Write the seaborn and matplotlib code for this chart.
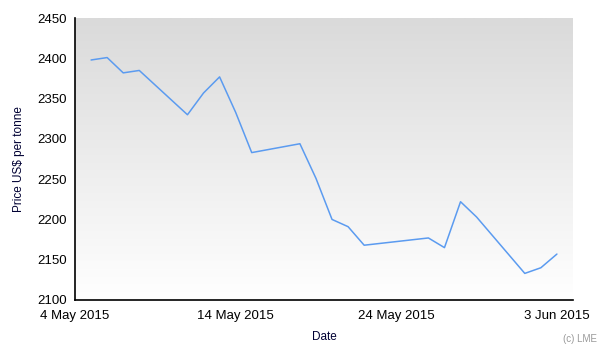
import numpy as np
import pandas as pd
import matplotlib
matplotlib.use('Agg')
import matplotlib.pyplot as plt
import matplotlib.dates as mdates
import seaborn as sns

# LME daily prices
dates = ['2015-05-05', '2015-05-06', '2015-05-07', '2015-05-08', '2015-05-11',
         '2015-05-12', '2015-05-13', '2015-05-14', '2015-05-15', '2015-05-18',
         '2015-05-19', '2015-05-20', '2015-05-21', '2015-05-22', '2015-05-26',
         '2015-05-27', '2015-05-28', '2015-05-29', '2015-06-01', '2015-06-02',
         '2015-06-03']
prices = [2398, 2401, 2382, 2385, 2330, 2357, 2377, 2333, 2283, 2294,
          2251, 2200, 2191, 2168, 2177, 2165, 2222, 2203, 2133, 2140,
          2157]
tick_dates = ['2015-05-04', '2015-05-14', '2015-05-24', '2015-06-03']
y_ticks = [2100, 2150, 2200, 2250, 2300, 2350, 2400, 2450]

df = pd.DataFrame({'date': pd.to_datetime(dates), 'price': prices})

sns.set_style('white')
plt.rcParams['font.family'] = ['Liberation Sans', 'DejaVu Sans']

fig = plt.figure(figsize=(6.06, 3.55), dpi=100)
ax = fig.add_axes([0.1238, 0.155, 0.8217, 0.794])

# grey-to-white gradient background
grad = np.linspace(0, 1, 256).reshape(-1, 1)
bg = matplotlib.colors.LinearSegmentedColormap.from_list('bg', ['#dadada', '#ffffff'])
ax.imshow(grad, cmap=bg, aspect='auto', extent=[0, 1, 0, 1],
          transform=ax.transAxes, zorder=0, origin='upper')

sns.lineplot(data=df, x='date', y='price', color='#5b9bf0', linewidth=1.1, ax=ax, zorder=2)

ax.set_xlim(pd.Timestamp('2015-05-04'), pd.Timestamp('2015-06-04'))
ax.set_ylim(2100, 2450)
ax.set_yticks(y_ticks)
ax.set_xticks(pd.to_datetime(tick_dates))
ax.xaxis.set_major_formatter(mdates.DateFormatter('%-d %b %Y'))

for s in ['top', 'right']:
    ax.spines[s].set_visible(False)
for s in ['left', 'bottom']:
    ax.spines[s].set_color('black')
    ax.spines[s].set_linewidth(1.2)
ax.tick_params(axis='both', direction='out', length=5, width=1, color='black',
               labelsize=9.5, labelcolor='black', pad=2)
ax.tick_params(axis='y', pad=1)

ax.set_xlabel('Date', fontsize=8.5, color='#000033', labelpad=7)
ax.set_ylabel('Price US$ per tonne', fontsize=8.5, color='#000033', labelpad=9)
fig.text(0.985, 0.03, '(c) LME', fontsize=7, color='#999999', ha='right', va='bottom')

plt.savefig('out.png', dpi=100)
plt.close('all')
